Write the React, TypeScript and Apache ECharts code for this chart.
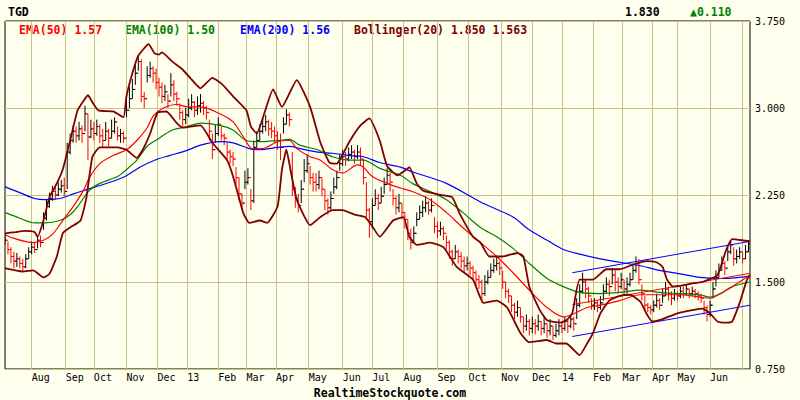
import React, { useRef, useEffect } from 'react';
import * as echarts from 'echarts';

// trading-day index of each month start, and its label
const monthDays = [18, 41, 60, 82, 103, 123, 144, 163, 183, 205, 228, 248, 269, 292, 313, 335, 356, 376, 397, 417, 437, 454, 476, 498];
const monthLabels = ['Aug', 'Sep', 'Oct', 'Nov', 'Dec', '13', 'Feb', 'Mar', 'Apr', 'May', 'Jun', 'Jul', 'Aug', 'Sep', 'Oct', 'Nov', 'Dec', '14', 'Feb', 'Mar', 'Apr', 'May', 'Jun', ''];

// one bar every 2 trading days
const BAR_STEP = 2;
const closes = [
  1.86, 1.78, 1.72, 1.68, 1.70, 1.66, 1.63, 1.70, 1.76, 1.80,
  1.78, 1.86, 1.84, 2.05, 2.15, 2.22, 2.28, 2.25, 2.30, 2.33,
  2.28, 2.62, 2.72, 2.80, 2.76, 2.82, 2.78, 2.95, 2.75, 2.82,
  2.78, 2.84, 2.76, 2.72, 2.80, 2.74, 2.80, 2.88, 2.76, 2.78,
  2.74, 2.98, 3.08, 3.16, 3.30, 3.40, 3.10, 3.08, 3.28, 3.34,
  3.30, 3.22, 3.18, 3.10, 3.14, 3.06, 3.20, 3.12, 3.08, 2.96,
  2.90, 2.94, 3.00, 3.05, 2.98, 3.02, 3.04, 3.00, 2.96, 2.80,
  2.64, 2.78, 2.86, 2.76, 2.74, 2.62, 2.58, 2.56, 2.40, 2.26,
  2.18, 2.36, 2.40, 2.20, 2.66, 2.72, 2.80, 2.84, 2.88, 2.82,
  2.80, 2.76, 2.72, 2.66, 2.86, 2.94, 2.90, 2.30, 2.22, 2.16,
  2.30, 2.46, 2.52, 2.40, 2.36, 2.34, 2.40, 2.30, 2.20, 2.14,
  2.22, 2.32, 2.40, 2.52, 2.58, 2.56, 2.60, 2.62, 2.58, 2.62,
  2.56, 2.40, 2.12, 2.02, 2.16, 2.22, 2.18, 2.24, 2.34, 2.42,
  2.36, 2.22, 2.14, 2.18, 2.10, 2.04, 1.92, 1.84, 1.92, 2.04,
  2.10, 2.14, 2.18, 2.12, 2.16, 1.98, 1.94, 1.96, 1.92, 1.84,
  1.76, 1.70, 1.76, 1.72, 1.68, 1.64, 1.66, 1.62, 1.58, 1.52,
  1.50, 1.40, 1.50, 1.54, 1.60, 1.64, 1.66, 1.62, 1.50, 1.42,
  1.38, 1.30, 1.24, 1.28, 1.20, 1.12, 1.16, 1.10, 1.14, 1.12,
  1.16, 1.10, 1.14, 1.08, 1.12, 1.04, 1.08, 1.12, 1.10, 1.16,
  1.12, 1.18, 1.14, 1.30, 1.42, 1.50, 1.44, 1.38, 1.30, 1.32,
  1.28, 1.32, 1.42, 1.48, 1.46, 1.56, 1.50, 1.46, 1.52, 1.44,
  1.48, 1.52, 1.60, 1.66, 1.52, 1.40, 1.30, 1.28, 1.26, 1.30,
  1.34, 1.30, 1.38, 1.44, 1.40, 1.36, 1.40, 1.38, 1.42, 1.40,
  1.44, 1.40, 1.42, 1.40, 1.38, 1.36, 1.28, 1.22, 1.30, 1.44,
  1.54, 1.60, 1.66, 1.62, 1.76, 1.82, 1.70, 1.72, 1.76, 1.70,
  1.76, 1.83,
];
const highs = [
  1.92, 1.85, 1.80, 1.76, 1.75, 1.72, 1.70, 1.74, 1.80, 1.85,
  1.84, 1.89, 1.90, 2.10, 2.21, 2.27, 2.33, 2.32, 2.36, 2.38,
  2.40, 2.70, 2.78, 2.85, 2.84, 2.88, 2.85, 3.02, 2.95, 2.90,
  2.88, 2.90, 2.86, 2.82, 2.88, 2.82, 2.90, 2.92, 2.84, 2.82,
  2.80, 3.10, 3.18, 3.25, 3.38, 3.45, 3.42, 3.14, 3.36, 3.40,
  3.36, 3.34, 3.26, 3.22, 3.20, 3.12, 3.30, 3.24, 3.14, 3.04,
  2.98, 3.00, 3.08, 3.12, 3.06, 3.10, 3.12, 3.06, 3.02, 2.90,
  2.78, 2.86, 2.92, 2.84, 2.78, 2.70, 2.64, 2.62, 2.49, 2.40,
  2.26, 2.46, 2.48, 2.30, 2.72, 2.80, 2.86, 2.92, 2.94, 2.90,
  2.88, 2.84, 2.80, 2.78, 2.92, 2.99, 2.96, 2.62, 2.32, 2.26,
  2.38, 2.56, 2.60, 2.50, 2.44, 2.44, 2.46, 2.40, 2.30, 2.22,
  2.28, 2.40, 2.46, 2.60, 2.64, 2.62, 2.66, 2.68, 2.64, 2.68,
  2.66, 2.56, 2.36, 2.14, 2.22, 2.30, 2.26, 2.32, 2.40, 2.48,
  2.44, 2.30, 2.24, 2.26, 2.18, 2.10, 2.04, 1.96, 1.98, 2.10,
  2.16, 2.20, 2.24, 2.20, 2.22, 2.06, 2.02, 2.02, 1.98, 1.90,
  1.86, 1.78, 1.82, 1.78, 1.76, 1.72, 1.72, 1.68, 1.64, 1.60,
  1.56, 1.52, 1.56, 1.60, 1.66, 1.70, 1.72, 1.68, 1.60, 1.50,
  1.44, 1.38, 1.32, 1.34, 1.28, 1.20, 1.22, 1.18, 1.20, 1.18,
  1.22, 1.16, 1.20, 1.14, 1.18, 1.12, 1.14, 1.18, 1.16, 1.20,
  1.18, 1.22, 1.20, 1.36, 1.48, 1.58, 1.52, 1.46, 1.36, 1.36,
  1.34, 1.38, 1.48, 1.54, 1.52, 1.62, 1.60, 1.54, 1.58, 1.52,
  1.54, 1.58, 1.66, 1.72, 1.70, 1.48, 1.38, 1.32, 1.30, 1.34,
  1.40, 1.36, 1.44, 1.50, 1.46, 1.42, 1.44, 1.42, 1.46, 1.46,
  1.48, 1.44, 1.46, 1.44, 1.42, 1.40, 1.34, 1.30, 1.34, 1.50,
  1.60, 1.66, 1.72, 1.68, 1.82, 1.86, 1.80, 1.78, 1.80, 1.76,
  1.82, 1.86,
];
const lows = [
  1.82, 1.74, 1.66, 1.62, 1.63, 1.62, 1.59, 1.62, 1.70, 1.74,
  1.75, 1.79, 1.80, 1.95, 2.03, 2.14, 2.20, 2.21, 2.24, 2.27,
  2.24, 2.30, 2.60, 2.70, 2.70, 2.72, 2.70, 2.80, 2.55, 2.74,
  2.72, 2.76, 2.70, 2.66, 2.72, 2.67, 2.74, 2.78, 2.72, 2.70,
  2.70, 2.92, 3.00, 3.08, 3.20, 3.32, 3.05, 3.00, 3.22, 3.26,
  3.22, 3.16, 3.10, 3.04, 3.06, 3.00, 3.10, 3.06, 3.02, 2.90,
  2.84, 2.86, 2.92, 2.98, 2.92, 2.94, 2.96, 2.94, 2.90, 2.72,
  2.56, 2.70, 2.76, 2.72, 2.68, 2.56, 2.52, 2.50, 2.34, 2.20,
  2.12, 2.30, 2.34, 2.12, 2.18, 2.66, 2.72, 2.78, 2.80, 2.76,
  2.74, 2.70, 2.64, 2.55, 2.78, 2.86, 2.84, 2.24, 2.14, 2.10,
  2.18, 2.36, 2.44, 2.34, 2.28, 2.28, 2.30, 2.24, 2.12, 2.08,
  2.12, 2.26, 2.30, 2.46, 2.50, 2.50, 2.54, 2.56, 2.52, 2.56,
  2.50, 2.34, 2.06, 1.88, 1.96, 2.16, 2.12, 2.18, 2.26, 2.34,
  2.28, 2.16, 2.08, 2.10, 2.04, 1.96, 1.86, 1.78, 1.84, 1.98,
  2.04, 2.06, 2.10, 2.08, 2.10, 1.92, 1.88, 1.90, 1.86, 1.78,
  1.70, 1.64, 1.70, 1.66, 1.62, 1.58, 1.60, 1.56, 1.52, 1.46,
  1.44, 1.32, 1.38, 1.48, 1.54, 1.58, 1.60, 1.56, 1.44, 1.36,
  1.32, 1.24, 1.18, 1.20, 1.15, 1.06, 1.08, 1.04, 1.06, 1.05,
  1.08, 1.04, 1.06, 1.02, 1.04, 1.00, 1.02, 1.04, 1.06, 1.08,
  1.06, 1.10, 1.08, 1.18, 1.28, 1.40, 1.36, 1.32, 1.26, 1.26,
  1.24, 1.26, 1.34, 1.40, 1.38, 1.48, 1.42, 1.40, 1.44, 1.38,
  1.40, 1.46, 1.52, 1.58, 1.48, 1.34, 1.26, 1.24, 1.22, 1.24,
  1.28, 1.26, 1.32, 1.38, 1.34, 1.30, 1.34, 1.34, 1.36, 1.36,
  1.38, 1.36, 1.38, 1.36, 1.34, 1.32, 1.22, 1.16, 1.20, 1.36,
  1.46, 1.54, 1.60, 1.56, 1.68, 1.74, 1.64, 1.66, 1.70, 1.66,
  1.70, 1.76,
];

// indicator lines, [trading day, value]
const ema50 = [
  [0, 1.91], [5, 1.88], [19, 1.84], [26, 1.86], [32, 1.91], [39, 2.03], [46, 2.15], [53, 2.29], [57, 2.40], [64, 2.52],
  [73, 2.59], [82, 2.64], [89, 2.72], [96, 2.83], [100, 2.93], [107, 3.00], [116, 3.03], [123, 3.01], [132, 3.01], [145, 2.95],
  [154, 2.88], [161, 2.75], [167, 2.65], [174, 2.65], [184, 2.71], [192, 2.72], [197, 2.65], [206, 2.58], [213, 2.55], [221, 2.47],
  [228, 2.44], [238, 2.51], [242, 2.49], [248, 2.41], [258, 2.35], [267, 2.31], [275, 2.28], [287, 2.21], [298, 2.10], [309, 1.97],
  [321, 1.84], [332, 1.72], [343, 1.58], [354, 1.43], [366, 1.28], [377, 1.20], [383, 1.22], [393, 1.28], [402, 1.30], [415, 1.34],
  [429, 1.39], [442, 1.39], [456, 1.39], [469, 1.37], [476, 1.36], [483, 1.40], [491, 1.46], [503, 1.56],
];
const ema100 = [
  [0, 2.10], [10, 2.05], [20, 2.01], [27, 2.01], [37, 2.03], [44, 2.08], [49, 2.15], [57, 2.29], [64, 2.35], [76, 2.41],
  [82, 2.47], [89, 2.55], [96, 2.67], [103, 2.73], [113, 2.81], [123, 2.84], [132, 2.87], [145, 2.85], [154, 2.81], [163, 2.72],
  [172, 2.71], [184, 2.72], [192, 2.73], [199, 2.68], [211, 2.64], [221, 2.58], [233, 2.55], [242, 2.55], [253, 2.48], [267, 2.42],
  [275, 2.35], [287, 2.28], [298, 2.21], [309, 2.10], [321, 1.97], [332, 1.89], [343, 1.79], [354, 1.66], [366, 1.53], [377, 1.46],
  [388, 1.41], [402, 1.40], [415, 1.41], [429, 1.43], [442, 1.41], [456, 1.40], [469, 1.39], [476, 1.37], [483, 1.40], [491, 1.46],
  [503, 1.50],
];
const ema200 = [
  [0, 2.32], [10, 2.27], [20, 2.22], [27, 2.21], [37, 2.22], [44, 2.25], [51, 2.28], [61, 2.32], [71, 2.36], [81, 2.41],
  [91, 2.49], [101, 2.55], [111, 2.59], [122, 2.63], [132, 2.68], [145, 2.71], [154, 2.70], [165, 2.65], [172, 2.64], [184, 2.66],
  [192, 2.67], [199, 2.65], [211, 2.62], [221, 2.61], [233, 2.59], [242, 2.58], [253, 2.53], [267, 2.49], [275, 2.45], [298, 2.35],
  [321, 2.19], [343, 2.06], [354, 1.95], [366, 1.86], [377, 1.78], [388, 1.74], [402, 1.70], [415, 1.67], [429, 1.64], [442, 1.60],
  [456, 1.57], [469, 1.54], [483, 1.53], [496, 1.54], [503, 1.55],
];
const bbUpper = [
  [0, 1.92], [7, 1.93], [13, 1.94], [20, 1.93], [22, 1.89], [26, 2.03], [30, 2.23], [35, 2.35], [39, 2.47], [44, 2.72],
  [49, 2.98], [54, 3.08], [56, 3.11], [59, 3.05], [63, 2.98], [73, 2.97], [80, 2.92], [82, 3.10], [86, 3.30], [90, 3.45],
  [97, 3.55], [101, 3.47], [104, 3.46], [106, 3.48], [113, 3.40], [120, 3.33], [125, 3.26], [132, 3.17], [140, 3.26], [147, 3.20],
  [154, 3.10], [163, 2.98], [166, 2.84], [170, 2.78], [175, 2.95], [181, 3.16], [187, 3.01], [197, 3.24], [206, 3.01], [213, 2.70],
  [219, 2.53], [224, 2.52], [228, 2.60], [233, 2.72], [240, 2.85], [246, 2.91], [253, 2.72], [258, 2.50], [265, 2.42], [271, 2.47],
  [273, 2.49], [278, 2.35], [282, 2.29], [294, 2.25], [302, 2.23], [307, 2.09], [316, 1.89], [321, 1.84], [327, 1.72], [336, 1.72],
  [346, 1.75], [350, 1.72], [354, 1.46], [361, 1.26], [366, 1.17], [375, 1.15], [379, 1.17], [383, 1.23], [388, 1.52], [397, 1.52],
  [406, 1.61], [415, 1.61], [424, 1.65], [433, 1.68], [440, 1.67], [444, 1.63], [447, 1.52], [451, 1.46], [458, 1.47], [465, 1.49],
  [471, 1.50], [481, 1.56], [487, 1.78], [491, 1.87], [498, 1.86], [503, 1.85],
];
const bbLower = [
  [0, 1.62], [7, 1.60], [12, 1.59], [19, 1.60], [26, 1.54], [30, 1.57], [35, 1.72], [39, 1.92], [44, 1.97], [51, 2.03],
  [55, 2.23], [59, 2.58], [64, 2.66], [76, 2.66], [82, 2.64], [89, 2.57], [93, 2.64], [98, 2.78], [103, 2.96], [109, 2.97],
  [116, 2.87], [120, 2.83], [132, 2.85], [140, 2.70], [150, 2.55], [154, 2.41], [161, 2.09], [165, 2.01], [172, 2.03], [177, 2.01],
  [184, 2.15], [187, 2.47], [190, 2.64], [193, 2.45], [197, 2.21], [206, 1.99], [213, 2.06], [221, 2.12], [228, 2.12], [236, 2.08],
  [243, 2.06], [248, 1.98], [253, 1.89], [262, 2.03], [269, 2.06], [273, 1.89], [278, 1.82], [287, 1.84], [296, 1.80], [305, 1.63],
  [316, 1.52], [323, 1.32], [332, 1.34], [339, 1.28], [348, 1.06], [354, 0.98], [366, 1.00], [372, 0.97], [379, 0.97], [388, 0.87],
  [393, 0.97], [397, 1.06], [402, 1.23], [408, 1.34], [415, 1.38], [422, 1.39], [429, 1.33], [433, 1.23], [437, 1.16], [444, 1.18],
  [454, 1.23], [465, 1.26], [471, 1.27], [476, 1.23], [481, 1.16], [487, 1.15], [491, 1.16], [496, 1.32], [501, 1.52], [503, 1.56],
];

// trend channel
const channelUpper = [[383, 1.58], [503, 1.85]];
const channelMid = [[383, 1.305], [503, 1.575]];
const channelLower = [[383, 1.03], [503, 1.30]];

const lastPrice = '1.830';
const priceChange = '\u25B20.110';

const MONO = "'DejaVu Sans Mono', monospace";
const GRID_COLOR = '#c4c48a';
const BG = '#ffffee';

const App: React.FC = () => {
  const chartRef = useRef<HTMLDivElement>(null);

  useEffect(() => {
    if (!chartRef.current) return;
    const chart = echarts.init(chartRef.current, null, { renderer: 'svg' });

    const bars = closes.map((c, i) => [i * BAR_STEP, i > 0 ? closes[i - 1] : c, c, lows[i], highs[i]]);

    const line = (data: number[][], color: string, width: number, smooth: number | boolean) => ({
      type: 'line',
      data,
      smooth,
      showSymbol: false,
      silent: true,
      lineStyle: { color, width },
      itemStyle: { color },
    });

    const legendText = (x: number, text: string, fill: string) => ({
      type: 'text',
      x,
      y: 30,
      style: { text, fill, font: `bold 11.5px ${MONO}`, verticalAlign: 'middle' },
    });

    chart.setOption({
      animation: false,
      backgroundColor: BG,
      grid: {
        left: 5, right: 50, top: 21, bottom: 31,
        show: true, borderColor: '#000', borderWidth: 1, backgroundColor: BG,
      },
      xAxis: {
        type: 'value',
        min: 0,
        max: 503,
        axisLine: { show: false },
        axisTick: { show: false, customValues: monthDays },
        axisLabel: {
          customValues: monthDays,
          formatter: (v: number) => {
            const i = monthDays.indexOf(Math.round(v));
            return i >= 0 ? monthLabels[i] : '';
          },
          align: 'left',
          margin: 3,
          color: '#000',
          fontFamily: MONO,
          fontSize: 10,
        },
        splitLine: { show: true, lineStyle: { color: GRID_COLOR, width: 1 } },
      },
      yAxis: {
        type: 'value',
        position: 'right',
        min: 0.75,
        max: 3.75,
        interval: 0.75,
        axisLine: { show: false },
        axisTick: { show: false },
        axisLabel: {
          formatter: (v: number) => v.toFixed(3),
          margin: 5,
          color: '#000',
          fontFamily: MONO,
          fontSize: 10,
        },
        splitLine: { show: true, lineStyle: { color: GRID_COLOR, width: 1 } },
      },
      graphic: [
        { type: 'text', x: 8, y: 12, style: { text: 'TGD', fill: '#000', font: `bold 11.5px ${MONO}`, verticalAlign: 'middle' } },
        { type: 'text', x: 625, y: 12, style: { text: lastPrice, fill: '#000', font: `bold 11.5px ${MONO}`, verticalAlign: 'middle' } },
        { type: 'text', x: 690, y: 12, style: { text: priceChange, fill: '#008000', font: `bold 11.5px ${MONO}`, verticalAlign: 'middle' } },
        legendText(19, 'EMA(50) 1.57', '#ff0000'),
        legendText(125, 'EMA(100) 1.50', '#008000'),
        legendText(240, 'EMA(200) 1.56', '#0000ff'),
        legendText(354, 'Bollinger(20) 1.850 1.563', '#800000'),
        {
          type: 'text', x: 390, y: 393,
          style: { text: 'RealtimeStockquote.com', fill: '#000', font: `bold 11.5px ${MONO}`, align: 'center', verticalAlign: 'middle' },
        },
      ],
      series: [
        {
          type: 'custom',
          data: bars,
          encode: { x: 0, y: [1, 2, 3, 4] },
          silent: true,
          clip: true,
          renderItem: (_params: any, api: any) => {
            const x = api.value(0);
            const o = api.value(1);
            const c = api.value(2);
            const pH = api.coord([x, api.value(4)]);
            const pL = api.coord([x, api.value(3)]);
            const pO = api.coord([x, o]);
            const pC = api.coord([x, c]);
            const stroke = c >= o ? '#000' : '#ff0000';
            const st = { stroke, lineWidth: 1 };
            return {
              type: 'group',
              children: [
                { type: 'line', shape: { x1: pH[0], y1: pH[1], x2: pL[0], y2: pL[1] }, style: st },
                { type: 'line', shape: { x1: pO[0] - 2, y1: pO[1], x2: pO[0], y2: pO[1] }, style: st },
                { type: 'line', shape: { x1: pC[0], y1: pC[1], x2: pC[0] + 2, y2: pC[1] }, style: st },
              ],
            };
          },
        },
        line(ema200, '#0000ff', 1.2, 0.3),
        line(ema100, '#008000', 1.2, 0.3),
        line(ema50, '#ff0000', 1.2, 0.3),
        line(channelUpper, '#0000ff', 1, false),
        line(channelLower, '#0000ff', 1, false),
        line(channelMid, '#ff0000', 1, false),
        line(bbUpper, '#800000', 1.8, 0.15),
        line(bbLower, '#800000', 1.8, 0.15),
      ],
    });

    return () => {
      chart.dispose();
    };
  }, []);

  return (
    <div
      ref={chartRef}
      style={{ position: 'fixed', left: 0, top: 0, width: 800, height: 400, background: BG }}
    />
  );
};

export default App;
